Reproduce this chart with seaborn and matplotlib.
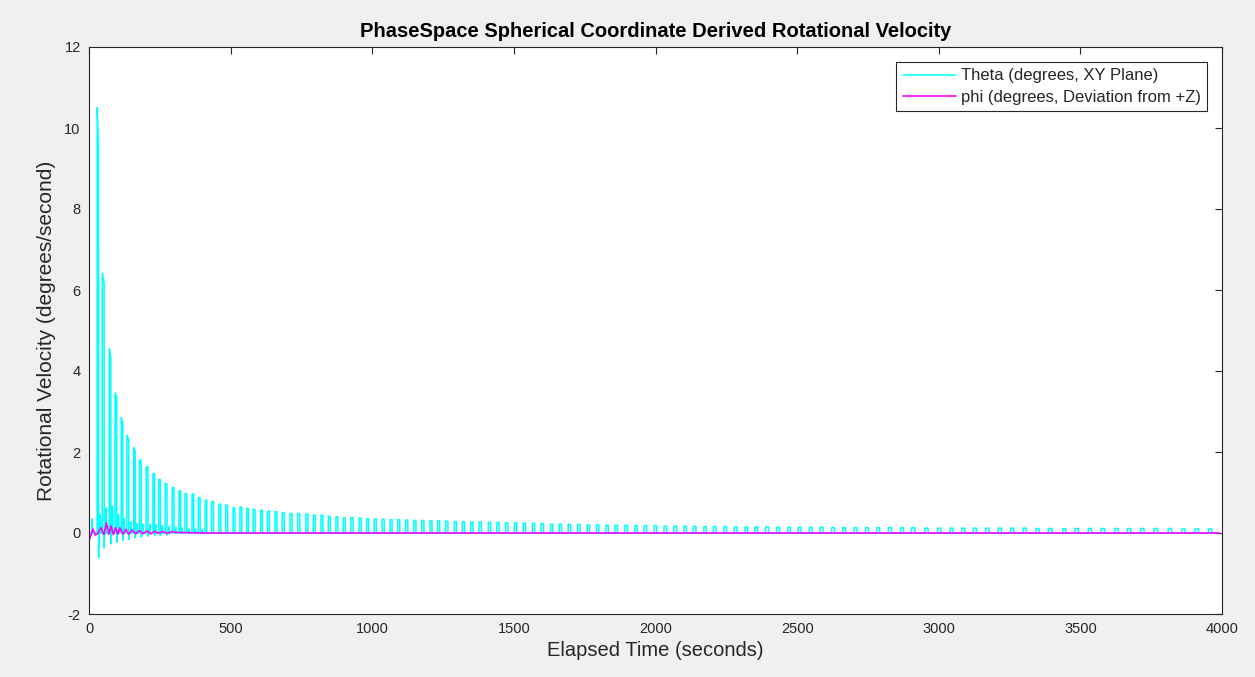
import numpy as np
import pandas as pd
import matplotlib
matplotlib.use("Agg")
import matplotlib.pyplot as plt
import seaborn as sns

# ---------------- data ----------------
# Theta: main pulse start times (s) and pulse heights (deg/s)
theta_spike_t = [29, 47, 72, 92, 114, 134, 158, 178, 202, 226, 246, 269, 294, 318, 339,
                 364, 386, 410, 433, 459, 483, 509, 533, 557, 580, 606, 630, 657, 682,
                 710, 737, 766, 792, 819, 845, 872, 898, 925, 954, 980, 1007,
                 1035, 1063, 1090, 1118, 1147, 1175, 1204, 1231, 1259, 1290, 1318, 1348,
                 1377, 1410, 1440, 1471, 1502, 1533, 1565, 1596,
                 1630, 1660, 1692, 1725, 1759, 1792, 1825, 1857, 1892, 1928, 1960, 1995,
                 2030, 2065, 2101, 2133, 2171,
                 2204, 2242, 2278, 2316, 2351, 2389, 2428, 2467, 2504, 2543, 2581, 2622,
                 2661, 2701, 2742,
                 2781, 2822, 2866, 2904, 2951, 2996, 3040, 3081, 3122, 3166, 3210, 3254,
                 3298, 3343, 3387,
                 3438, 3481, 3528, 3573, 3622, 3666, 3713, 3760, 3810, 3858, 3905, 3952]
theta_spike_h = [10.5, 6.41, 4.55, 3.46, 2.85, 2.41, 2.11, 1.80, 1.63, 1.46, 1.32, 1.22,
                 1.12, 1.04, 0.97, 0.96, 0.87, 0.81, 0.77, 0.71, 0.69, 0.62, 0.64, 0.61,
                 0.58, 0.56, 0.54, 0.53, 0.50,
                 0.48, 0.48, 0.47, 0.44, 0.44, 0.41, 0.40, 0.37, 0.38, 0.37, 0.35, 0.34,
                 0.34, 0.33, 0.33, 0.32, 0.31, 0.31, 0.30, 0.30, 0.29, 0.28, 0.28, 0.27,
                 0.27, 0.26, 0.26, 0.25, 0.25, 0.24, 0.24, 0.23,
                 0.22, 0.22, 0.21, 0.21, 0.20, 0.20, 0.19, 0.19, 0.19, 0.18, 0.18, 0.18,
                 0.17, 0.17, 0.17, 0.16, 0.16,
                 0.16, 0.16, 0.15, 0.15, 0.15, 0.15, 0.14, 0.14, 0.14, 0.14, 0.14, 0.13,
                 0.13, 0.13, 0.13,
                 0.13, 0.13, 0.13, 0.13, 0.12, 0.12, 0.12, 0.12, 0.12, 0.12, 0.12, 0.12,
                 0.12, 0.11, 0.11,
                 0.11, 0.11, 0.11, 0.11, 0.11, 0.11, 0.11, 0.11, 0.11, 0.10, 0.10, 0.10]
# second sample of the first pulses
theta_spike_h2 = [9.6, 6.17, 4.33, 3.36, 2.72, 2.31, 2.02]
# negative dip right after the first pulses
theta_dip = [-0.61, -0.37, -0.27, -0.23, -0.18, -0.16, -0.12, -0.10, -0.08, -0.07,
             -0.06, -0.05]
# smaller secondary pulses between the first main pulses
theta_sub_t = [11, 40, 60, 83, 104, 124, 147, 168, 191, 215, 237, 258, 283, 307, 329,
               352, 376, 399]
theta_sub_h = [0.35, 0.45, 0.62, 0.66, 0.46, 0.35, 0.27, 0.24, 0.22, 0.22, 0.20, 0.18,
               0.16, 0.14, 0.12, 0.10, 0.09, 0.08]
theta_start = [(0, -0.3), (3, 0.0)]
t_end = 3990

# phi: small damped wobble near zero
phi_t = [0, 1, 6, 14, 22, 30, 42, 52, 62, 70, 78, 86, 94, 102, 109, 120, 130, 140, 152,
         165, 178, 190, 205, 218, 232, 245, 260, 275, 290, 320, 350, 400, 3990]
phi_v = [0.7, -0.15, -0.08, 0.1, -0.05, -0.02, 0.13, -0.04, 0.25, -0.03, 0.17, -0.04,
         0.13, -0.03, 0.13, -0.03, 0.09, -0.03, 0.07, -0.02, 0.06, -0.02, 0.05, -0.02,
         0.04, -0.01, 0.04, -0.01, 0.03, 0.01, 0.01, 0.0, 0.0]

title = "PhaseSpace Spherical Coordinate Derived Rotational Velocity"
xlabel = "Elapsed Time (seconds)"
ylabel = "Rotational Velocity (degrees/second)"
label_theta = "Theta (degrees, XY Plane)"
label_phi = "phi (degrees, Deviation from +Z)"
x_ticks = [0, 500, 1000, 1500, 2000, 2500, 3000, 3500, 4000]
y_ticks = [-2, 0, 2, 4, 6, 8, 10, 12]

# ---------------- build the theta trace from the read values ----------------
events = []
for i, (t, h) in enumerate(zip(theta_spike_t, theta_spike_h)):
    nxt = theta_spike_t[i + 1] if i + 1 < len(theta_spike_t) else t + 46
    w = 0.25 * (nxt - t)
    h2 = theta_spike_h2[i] if i < len(theta_spike_h2) else h
    d = theta_dip[i] if i < len(theta_dip) else 0.0
    pts = [(t - 0.3, 0.0), (t, h), (t + w, h2), (t + w + 0.3, d)]
    if d != 0.0:
        pts.append((t + w + 2.3, 0.0))
    events.append((t, pts))
for tb, hb in zip(theta_sub_t, theta_sub_h):
    events.append((tb, [(tb - 0.3, 0.0), (tb, hb), (tb + 1.2, 0.0)]))
events.sort(key=lambda e: e[0])
pts = list(theta_start)
for _, p in events:
    pts.extend(p)
pts.append((t_end, 0.0))
theta_df = pd.DataFrame(pts, columns=["t", "v"])
phi_df = pd.DataFrame({"t": phi_t, "v": phi_v})

# ---------------- plot ----------------
sns.set_theme(style="white")
plt.rcParams["font.family"] = ["Liberation Sans", "DejaVu Sans"]
plt.rcParams["axes.unicode_minus"] = False

fig = plt.figure(figsize=(12.55, 6.77), dpi=100, facecolor="#f0f0f0")
ax = fig.add_axes([89 / 1255, 63 / 677, (1222 - 89) / 1255, (614 - 47) / 677])
ax.set_facecolor("white")

sns.lineplot(data=theta_df, x="t", y="v", sort=False, estimator=None, ax=ax,
             color="#00ffff", linewidth=1.1, label=label_theta)
sns.lineplot(data=phi_df, x="t", y="v", sort=False, estimator=None, ax=ax,
             color="#ff00ff", linewidth=1.2, label=label_phi)

ax.set_xlim(0, 4000)
ax.set_ylim(-2, 12)
ax.set_xticks(x_ticks)
ax.set_yticks(y_ticks)
ax.tick_params(direction="in", length=5, width=0.8, colors="#262626",
               labelsize=10.5, top=True, right=True, pad=6)
for s in ax.spines.values():
    s.set_color("#262626")
    s.set_linewidth(0.8)
    s.set_visible(True)

ax.set_title(title, fontsize=14.5, fontweight="bold", color="black", pad=7)
ax.set_xlabel(xlabel, fontsize=14.5, color="#262626", labelpad=3)
ax.set_ylabel(ylabel, fontsize=15, color="#262626", labelpad=6)

leg = ax.legend(loc="upper right", bbox_to_anchor=(0.987, 0.974), fontsize=12,
                frameon=True, fancybox=False, framealpha=1, edgecolor="#262626",
                handlelength=3.2, borderpad=0.4, labelspacing=0.38, handletextpad=0.25,
                borderaxespad=0)
leg.get_frame().set_linewidth(0.8)
for txt in leg.get_texts():
    txt.set_color("#262626")

fig.savefig("out.png", dpi=100, facecolor=fig.get_facecolor())
